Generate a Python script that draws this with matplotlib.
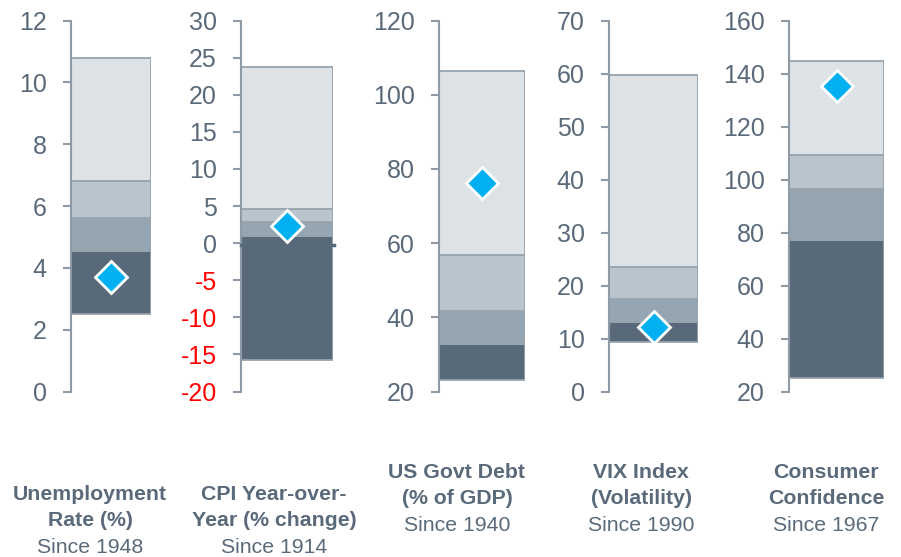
import matplotlib
matplotlib.use("Agg")
import matplotlib.pyplot as plt

plt.rcParams['font.family'] = ['Liberation Sans', 'DejaVu Sans']

# Data: range segments (min, p25, median, p75, max) and current value
indicators = ["Unemployment\nRate (%)", "CPI Year-over-\nYear (% change)", "US Govt Debt\n(% of GDP)",
              "VIX Index\n(Volatility)", "Consumer\nConfidence"]
since = ["Since 1948", "Since 1914", "Since 1940", "Since 1990", "Since 1967"]
range_min = [2.5, -15.7, 23.2, 9.4, 25.0]
range_q1 = [4.55, 1.0, 32.7, 13.2, 77.1]
range_med = [5.6, 2.9, 41.6, 17.5, 96.4]
range_q3 = [6.8, 4.6, 56.7, 23.4, 109.3]
range_max = [10.8, 23.7, 106.3, 59.8, 144.9]
current = [3.7, 2.3, 76.3, 12.1, 135.4]
y_lo = [0, -20, 20, 0, 20]
y_hi = [12, 30, 120, 70, 160]
y_step = [2, 5, 20, 10, 20]

W, H = 901, 557
fig = plt.figure(figsize=(W / 100, H / 100), dpi=100)

ax_left = [71, 241, 439, 609, 789]
ax_width = [80, 92, 86, 89, 95]
ax_top, ax_bot = 20.5, 391.5
label_cx = [90, 274, 457, 641, 826]
label_base = [500, 500, 478, 478, 478]

seg_colors = ["#586a7a", "#95a5b1", "#bac4cd", "#dde2e6"]
edge_col = "#98a4ae"
tick_col = "#5a6a7a"
spine_col = "#8e9ba6"

for i in range(5):
    ax = fig.add_axes([ax_left[i] / W, 1 - ax_bot / H, ax_width[i] / W, (ax_bot - ax_top) / H])
    bounds = [range_min[i], range_q1[i], range_med[i], range_q3[i], range_max[i]]
    for k in range(4):
        ax.bar(0.5, bounds[k + 1] - bounds[k], bottom=bounds[k], width=1.0,
               color=seg_colors[k], edgecolor=edge_col, linewidth=1.3, zorder=2)
    if y_lo[i] < 0:
        ax.axhline(-0.3, xmin=0, xmax=1.01, color=seg_colors[0], lw=2.5, zorder=3, clip_on=False)
    ax.plot([0.5], [current[i]], marker='D', ms=16.5, mfc="#00b0f0", mec="white",
            mew=2, zorder=5, clip_on=False)
    ax.set_xlim(0, 1)
    ax.set_ylim(y_lo[i], y_hi[i])
    ticks = list(range(y_lo[i], y_hi[i] + 1, y_step[i]))
    ax.set_yticks(ticks)
    ax.set_yticklabels([str(t) for t in ticks])
    for t, lab in zip(ticks, ax.get_yticklabels()):
        lab.set_color("#ff0000" if t < 0 else tick_col)
    ax.tick_params(axis='y', direction='out', length=6, width=1.5, color=spine_col,
                   pad=11.5, labelsize=18)
    ax.set_xticks([])
    for s in ['top', 'right', 'bottom']:
        ax.spines[s].set_visible(False)
    ax.spines['left'].set_color(spine_col)
    ax.spines['left'].set_linewidth(1.5)
    ax.patch.set_alpha(0)

    lines = indicators[i].split("\n")
    for j, ln in enumerate(lines):
        fig.text(label_cx[i] / W, 1 - (label_base[i] + 26.5 * j) / H, ln, ha='center',
                 va='baseline', fontsize=15.3, fontweight='bold', color=tick_col)
    fig.text(label_cx[i] / W, 1 - (label_base[i] + 26.5 * 2) / H, since[i], ha='center',
             va='baseline', fontsize=15.3, color=tick_col)

fig.savefig("out.png", dpi=100)
